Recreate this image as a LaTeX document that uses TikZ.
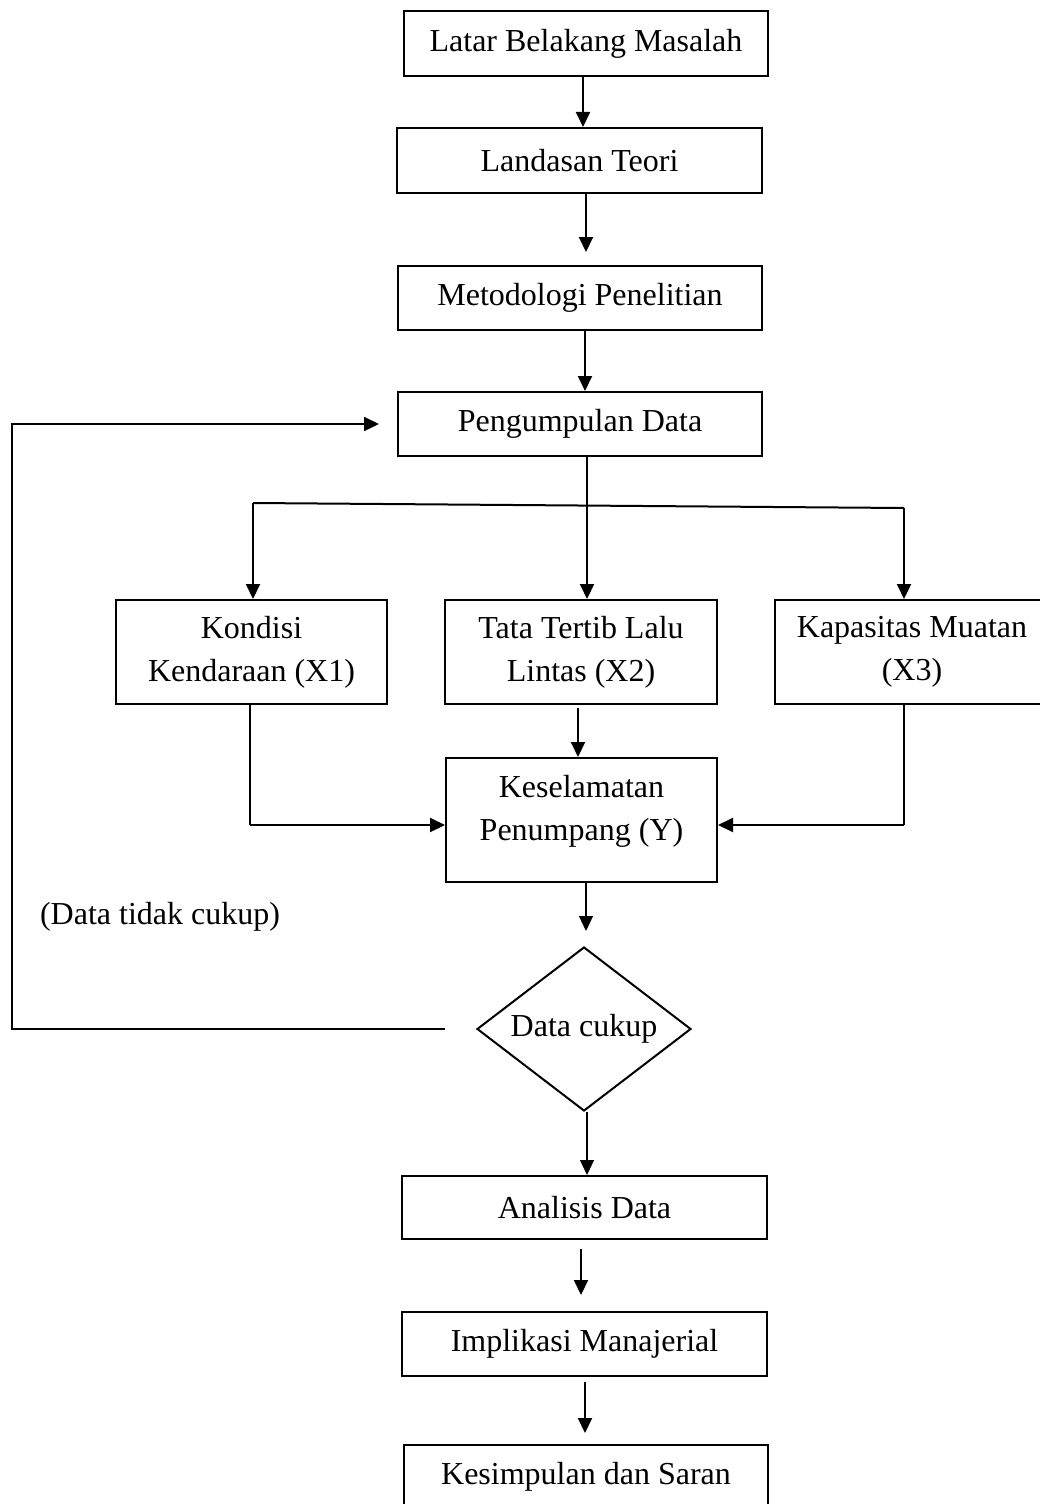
\documentclass[tikz,border=0pt]{standalone}
\usepackage{fontspec}
\setmainfont{Liberation Serif}
\usetikzlibrary{arrows.meta,shapes.geometric}
\begin{document}
\begin{tikzpicture}[x=0.5pt,y=-0.5pt,
  txt/.style={font=\fontsize{16}{21.5}\selectfont},
  box/.style={draw, line width=1pt, inner sep=0pt, align=center, txt},
  arr/.style={line width=1pt, -{Triangle[length=7.5pt,width=7pt]}},
  thinarr/.style={line width=0.6pt, -{Triangle[length=7.5pt,width=7pt]}},
  thinln/.style={line width=0.6pt},
  thickln/.style={line width=1pt}]
\useasboundingbox (0,0) rectangle (1039,1504);
% boxes
\node[box, minimum width=182pt, minimum height=32.5pt] (lbm) at (586,43.5) {Latar Belakang Masalah};
\node[box, minimum width=182.5pt, minimum height=32.5pt] (lt) at (579.5,160.5) {Landasan Teori};
\node[box, minimum width=182pt, minimum height=32pt] (mp) at (580,298) {Metodologi Penelitian};
\node[box, minimum width=182pt, minimum height=32pt] (pd) at (580,424) {Pengumpulan Data};
\node[box, minimum width=135.5pt, minimum height=52pt] (k1) at (251.5,652) {Kondisi\\Kendaraan (X1)};
\node[box, minimum width=136pt, minimum height=52pt] (k2) at (581,652) {Tata Tertib Lalu\\Lintas (X2)};
\node[box, minimum width=137pt, minimum height=52pt] (k3) at (912,652) {Kapasitas Muatan\\(X3)};
\node[box, minimum width=135.5pt, minimum height=62pt, text depth=12pt] (ky) at (581.5,820) {Keselamatan\\Penumpang (Y)};
\node[draw, diamond, aspect=1.3, line width=1pt, inner sep=0pt, minimum width=107pt, minimum height=82pt, txt] (dc) at (584,1029) {Data cukup};
\node[box, minimum width=182.5pt, minimum height=31.5pt] (ad) at (584.5,1207.5) {Analisis Data};
\node[box, minimum width=182.5pt, minimum height=32pt] (im) at (584.5,1344) {Implikasi Manajerial};
\node[box, minimum width=182pt, minimum height=31.5pt] (ks) at (586,1476.5) {Kesimpulan dan Saran};
\node[txt] (dtc) at (160,917) {(Data tidak cukup)};
% vertical guide coordinates
\coordinate (v1) at (583,0);
\coordinate (v2) at (586,0);
\coordinate (v3) at (585,0);
\coordinate (v4) at (578,0);
\coordinate (v5) at (586,0);
\coordinate (v6) at (587,0);
\coordinate (v7) at (581,0);
\coordinate (v8) at (585,0);
% main chain
\draw[arr] (lbm.south -| v1) -- (lt.north -| v1);
\draw[arr, shorten >=6.5pt] (lt.south -| v2) -- (mp.north -| v2);
\draw[arr] (mp.south -| v3) -- (pd.north -| v3);
% branch
\coordinate (jm) at (587,505);
\coordinate (bl) at (253,503);
\coordinate (br) at (904,508);
\draw[thickln] (bl) -- (br);
\draw[thickln] (pd.south -| jm) -- (jm);
\draw[arr] (jm) -- (k2.north -| jm);
\draw[arr] (bl) -- (k1.north -| bl);
\draw[arr] (br) -- (k3.north -| br);
% into Y
\draw[arr, shorten <=1.5pt] (k2.south -| v4) -- (ky.north -| v4);
\coordinate (lx) at (250,825);
\coordinate (rx) at (904,825);
\draw[thinln] (k1.south -| lx) -- (lx);
\draw[arr] (lx) -- (ky.west |- lx);
\draw[thinln] (k3.south -| rx) -- (rx);
\draw[arr] (rx) -- (ky.east |- rx);
% Y to decision
\draw[thinarr, shorten >=7.5pt] (ky.south -| v5) -- (dc.north -| v5);
\draw[thinarr] (dc.south -| v6) -- (ad.north -| v6);
% feedback loop
\coordinate (fb) at (12,0);
\draw[arr, shorten <=15.5pt, shorten >=9pt] (dc.west) -- (dc.west -| fb) -- (fb |- pd.west) -- (pd.west);
% lower chain
\draw[arr, shorten <=4.5pt, shorten >=8pt] (ad.south -| v7) -- (im.north -| v7);
\draw[arr, shorten <=2.5pt, shorten >=5.5pt] (im.south -| v8) -- (ks.north -| v8);
\end{tikzpicture}
\end{document}
